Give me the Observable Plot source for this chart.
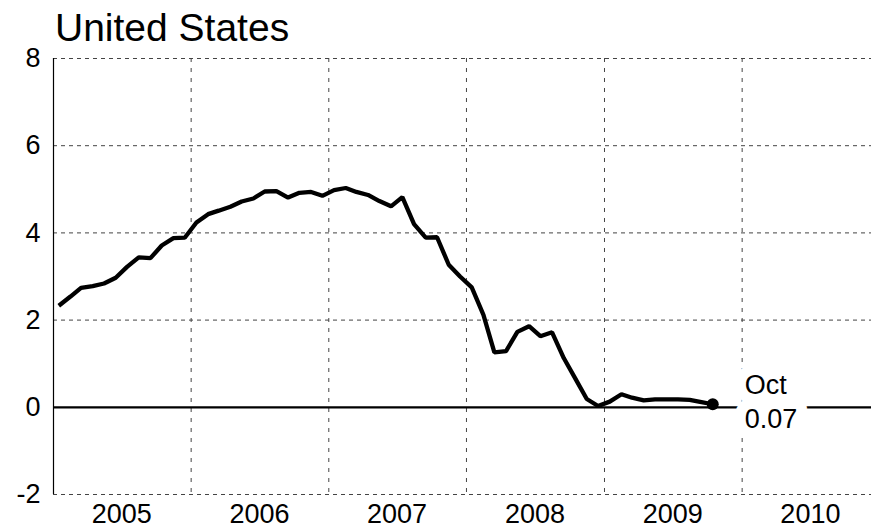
<!DOCTYPE html>
<html>
<head>
<meta charset="utf-8">
<script src="https://cdn.jsdelivr.net/npm/d3@7"></script>
<script src="https://cdn.jsdelivr.net/npm/@observablehq/plot@0.6"></script>
<style>
  html, body { margin: 0; padding: 0; background: white; }
  #wrap { width: 871px; height: 531px; position: relative; overflow: hidden; background: white; font-family: "Liberation Sans", Arial, sans-serif; }
  #title { position: absolute; left: 55px; top: 4px; font-size: 39px; line-height: 48px; height: 48px; color: #000; white-space: nowrap; z-index: 2; }
  #chart { position: absolute; left: 0; top: 36px; z-index: 1; }
</style>
</head>
<body>
<div id="wrap">
  <div id="title">United States</div>
  <div id="chart"></div>
</div>
<script>
// Monthly rate (%), Jan 2005 – Oct 2009
const months = [
  "2005-01","2005-02","2005-03","2005-04","2005-05","2005-06","2005-07","2005-08","2005-09","2005-10","2005-11","2005-12",
  "2006-01","2006-02","2006-03","2006-04","2006-05","2006-06","2006-07","2006-08","2006-09","2006-10","2006-11","2006-12",
  "2007-01","2007-02","2007-03","2007-04","2007-05","2007-06","2007-07","2007-08","2007-09","2007-10","2007-11","2007-12",
  "2008-01","2008-02","2008-03","2008-04","2008-05","2008-06","2008-07","2008-08","2008-09","2008-10","2008-11","2008-12",
  "2009-01","2009-02","2009-03","2009-04","2009-05","2009-06","2009-07","2009-08","2009-09","2009-10"
];
const rates = [
  2.33, 2.54, 2.74, 2.78, 2.84, 2.97, 3.22, 3.44, 3.42, 3.71, 3.88, 3.89,
  4.24, 4.43, 4.51, 4.60, 4.72, 4.79, 4.95, 4.96, 4.81, 4.92, 4.94, 4.85,
  4.98, 5.03, 4.94, 4.87, 4.73, 4.61, 4.82, 4.20, 3.89, 3.90, 3.27, 3.00,
  2.75, 2.12, 1.26, 1.29, 1.73, 1.86, 1.63, 1.72, 1.13, 0.67, 0.19, 0.03,
  0.13, 0.30, 0.22, 0.16, 0.18, 0.18, 0.18, 0.17, 0.12, 0.07
];
const yTicks = [-2, 0, 2, 4, 6, 8];
const yGrid = [-2, 2, 4, 6, 8];
const years = [2005, 2006, 2007, 2008, 2009, 2010];
const yearBoundaries = [2006, 2007, 2008, 2009, 2010];
const lastLabel = "Oct\n0.07";

const data = months.map((m, i) => ({date: new Date(m + "-15T00:00:00Z"), value: rates[i]}));
const last = data[data.length - 1];
const yearMid = years.map(y => new Date(Date.UTC(y, 6, 1)));
const yearStart = yearBoundaries.map(y => new Date(Date.UTC(y, 0, 1)));

const chart = Plot.plot({
  width: 871,
  height: 495,
  marginLeft: 53,
  marginRight: 0,
  marginTop: 22,
  marginBottom: 37,
  x: {type: "utc", domain: [new Date(Date.UTC(2005, 0, 1)), new Date(Date.UTC(2010, 11, 10))]},
  y: {domain: [-2, 8]},
  style: {fontFamily: "Liberation Sans, Arial, sans-serif", fontSize: "27px", background: "transparent", color: "black"},
  marks: [
    Plot.ruleY(yGrid, {stroke: "#444", strokeWidth: 1, strokeDasharray: "4,4"}),
    Plot.ruleX(yearStart, {stroke: "#444", strokeWidth: 1, strokeDasharray: "4,6"}),
    Plot.ruleX([new Date(Date.UTC(2005, 0, 1))], {stroke: "black", strokeWidth: 1.2}),
    Plot.ruleY([0], {stroke: "black", strokeWidth: 2.2}),
    Plot.axisY({ticks: yTicks, tickSize: 0, tickPadding: 13, fontSize: 27, label: null, tickFormat: d => String(d)}),
    Plot.axisX({ticks: yearMid, tickSize: 0, tickPadding: 9, fontSize: 27, label: null, tickFormat: d3.utcFormat("%Y")}),
    Plot.line(data, {x: "date", y: "value", stroke: "black", strokeWidth: 4.3, strokeLinejoin: "miter", strokeLinecap: "butt"}),
    Plot.dot([last], {x: "date", y: "value", r: 6, fill: "black"}),
    Plot.text([last], {x: "date", y: "value", text: () => lastLabel, dx: 32, dy: -4, textAnchor: "start", lineAnchor: "middle", lineHeight: 1.25, fontSize: 27, fill: "black", stroke: "white", strokeWidth: 22, strokeLinejoin: "round"})
  ]
});
document.getElementById("chart").appendChild(chart);
</script>
</body>
</html>
